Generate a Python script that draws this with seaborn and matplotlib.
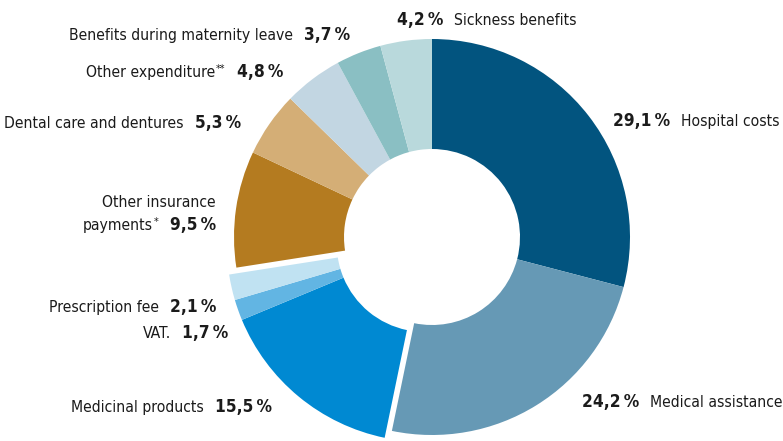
import os
import matplotlib
matplotlib.use("Agg")
import matplotlib.pyplot as plt
from matplotlib import font_manager as fm
import seaborn as sns
import numpy as np

# ---- data ----
categories = ["Hospital costs", "Medical assistance", "Medicinal products", "VAT.",
              "Prescription fee", "Other insurance\npayments*", "Dental care and dentures",
              "Other expenditure**", "Benefits during maternity leave", "Sickness benefits"]
values = [29.1, 24.2, 15.5, 1.7, 2.1, 9.5, 5.3, 4.8, 3.7, 4.2]
value_labels = ["29,1\u2009%", "24,2\u2009%", "15,5\u2009%", "1,7\u2009%", "2,1\u2009%",
                "9,5\u2009%", "5,3\u2009%", "4,8\u2009%", "3,7\u2009%", "4,2\u2009%"]
exploded = ["Medicinal products", "VAT.", "Prescription fee"]

# ---- styles / positions ----
colors = ["#02547f", "#6699b5", "#0089d2", "#62b5e3", "#c0e2f2",
          "#b47b20", "#d4ae76", "#c2d6e2", "#8abfc3", "#b9d9dc"]
label_side = ["right", "right", "left", "left", "left", "left", "left", "left", "left", "right"]
label_x = [613, 582, 272, 228, 216, 216, 241, 283, 350, 397]
label_y = [126, 407, 412, 338, 312, 230, 128, 77, 40, 25]

W, H = 783, 441
CX, CY, R, RING = 432, 237, 198, 110
EXPLODE = 10
GAP = 11

sns.set_theme(style="white")
plt.rcParams['font.family'] = ['DejaVu Sans']


def pick_font(bold):
    best, best_rank = None, 99
    prefs = ["liberation sans narrow", "dejavu sans condensed", "roboto condensed",
             "open sans condensed", "noto sans condensed", "dejavusanscondensed",
             "liberationsansnarrow", "roboto_condensed", "robotocondensed", "opensans_condensed",
             "notosans-condensed", "opensans-condensed"]
    for f in fm.fontManager.ttflist:
        n = f.name.lower()
        fn = os.path.basename(f.fname).lower()
        if f.style != "normal" or "italic" in fn or "oblique" in fn:
            continue
        w = f.weight if isinstance(f.weight, int) else {"bold": 700, "normal": 400, "regular": 400}.get(str(f.weight), 400)
        isbold = w >= 600 or "bold" in fn
        if isbold != bold:
            continue
        if any(k in fn for k in ("semibold", "extrabold", "black", "light", "thin", "medium", "extralight")):
            continue
        key = n + " " + str(f.stretch) + " " + fn
        for r, p in enumerate(prefs):
            if p in key or (p == "dejavu sans condensed" and n == "dejavu sans" and "condensed" in str(f.stretch)):
                if r < best_rank:
                    best, best_rank = f.fname, r
    if best is None:
        return fm.FontProperties(family="DejaVu Sans", weight="bold" if bold else "normal")
    return fm.FontProperties(fname=best)


fp_reg = pick_font(False)
fp_bold = pick_font(True)

fig = plt.figure(figsize=(W / 100, H / 100), dpi=100)
ax = fig.add_axes([0, 0, 1, 1])
renderer = fig.canvas.get_renderer()


def width_at(s, fp, size):
    t = fig.text(0, 0, s, fontproperties=fp, fontsize=size)
    w = t.get_window_extent(renderer).width
    t.remove()
    return w


FS = 10 * 223 / width_at("Benefits during maternity leave", fp_reg, 10)
FSB = 10 * 46 / width_at("3,7\u2009%", fp_bold, 10)

wedges, _ = ax.pie(values, colors=colors, startangle=90, counterclock=False,
                   radius=R, center=(CX, H - CY), frame=True,
                   wedgeprops=dict(width=RING, linewidth=0))

idx = [categories.index(c) for c in exploded]
t1 = min(wedges[i].theta1 for i in idx)
t2 = max(wedges[i].theta2 for i in idx)
mid = np.deg2rad((t1 + t2) / 2)
for i in idx:
    wedges[i].set_center((CX + EXPLODE * np.cos(mid), H - CY + EXPLODE * np.sin(mid)))

ax.set_xlim(0, W)
ax.set_ylim(0, H)
ax.set_aspect('equal')
ax.axis('off')

fig.canvas.draw()
tc = "#1b1b1b"


def put_label(xr, yb, s):
    """Right-aligned label at xr; trailing asterisks drawn as small superscripts."""
    base = s.rstrip("*")
    stars = s[len(base):]
    x = xr
    if stars:
        st = ax.text(x, yb + FS * 0.45, stars, ha="right", va="baseline",
                     fontproperties=fp_reg, fontsize=FS * 0.7, color=tc)
        x -= st.get_window_extent(renderer).width + 1
    ax.text(x, yb, base, ha="right", va="baseline", fontproperties=fp_reg, fontsize=FS, color=tc)


for cat, vl, side, x, y in zip(categories, value_labels, label_side, label_x, label_y):
    lines = cat.split("\n")
    yb = H - y
    ha = "right" if side == "left" else "left"
    num = ax.text(x, yb, vl, ha=ha, va="baseline", fontproperties=fp_bold, fontsize=FSB, color=tc)
    w = num.get_window_extent(renderer).width
    if side == "left":
        put_label(x - w - GAP, yb, lines[-1])
        for k, ln in enumerate(reversed(lines[:-1])):
            put_label(x, yb + 23 * (k + 1), ln)
    else:
        ax.text(x + w + GAP, yb, lines[-1], ha="left", va="baseline",
                fontproperties=fp_reg, fontsize=FS, color=tc)

fig.savefig("out.png", dpi=100, facecolor="white")
